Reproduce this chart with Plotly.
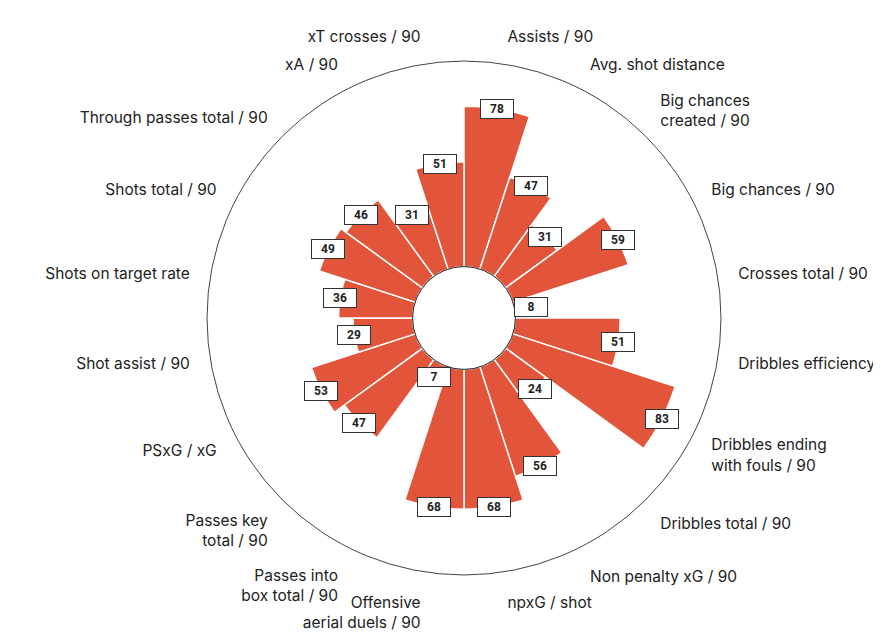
import numpy as np
import plotly.graph_objects as go

categories = [
    "Assists / 90", "Avg. shot distance", "Big chances<br>created / 90", "Big chances / 90",
    "Crosses total / 90", "Dribbles efficiency", "Dribbles ending<br>with fouls / 90",
    "Dribbles total / 90", "Non penalty xG / 90", "npxG / shot", "Offensive<br>aerial duels / 90",
    "Passes into<br>box total / 90", "Passes key<br>total / 90", "PSxG / xG", "Shot assist / 90",
    "Shots on target rate", "Shots total / 90", "Through passes total / 90", "xA / 90",
    "xT crosses / 90",
]
values = [78, 47, 31, 59, 8, 51, 83, 24, 56, 68, 68, 7, 47, 53, 29, 36, 49, 46, 31, 51]

BAR_COLOR = "#E2553A"
HOLE = 0.2
RMAX = 100
n = len(categories)
step = 360 / n
angles = [step / 2 + step * i for i in range(n)]

W, H = 881, 636
# polar area in pixels (square)
px0, px1 = 199, 713
py0, py1 = 53, 567
xdom = [px0 / W, px1 / W]
ydom = [(H - py1) / H, (H - py0) / H]

fig = go.Figure()
fig.add_trace(go.Barpolar(
    r=values, theta=angles, width=[step] * n,
    marker=dict(color=BAR_COLOR, line=dict(color="white", width=1.5)),
    hoverinfo="skip", showlegend=False,
))

# invisible cartesian overlay matching the polar area, used for value boxes
fig.add_trace(go.Scatter(x=[0], y=[0], mode="markers", marker=dict(opacity=0),
                         showlegend=False, hoverinfo="skip", xaxis="x", yaxis="y"))

annotations = []
for v, a in zip(values, angles):
    rr = HOLE + (1 - HOLE) * v / RMAX
    t = np.deg2rad(a)
    annotations.append(dict(
        x=rr * np.sin(t), y=rr * np.cos(t), xref="x", yref="y",
        text=f"<b>{v}</b>", showarrow=False,
        font=dict(family="Roboto, sans-serif", size=12, color="#222"),
        bgcolor="white", bordercolor="#333", borderwidth=1, borderpad=1.5,
        width=29, height=15, align="center", valign="middle",
    ))

shapes = [dict(type="circle", xref="x", yref="y", x0=-HOLE, x1=HOLE, y0=-HOLE, y1=HOLE,
               line=dict(color="#333", width=1), fillcolor="white", layer="above")]

fig.update_layout(
    width=W, height=H,
    margin=dict(l=0, r=0, t=0, b=0),
    paper_bgcolor="white", plot_bgcolor="white",
    showlegend=False,
    polar=dict(
        domain=dict(x=xdom, y=ydom),
        hole=HOLE,
        bgcolor="white",
        radialaxis=dict(range=[0, RMAX], visible=False),
        angularaxis=dict(
            rotation=90, direction="clockwise",
            tickmode="array", tickvals=angles, ticktext=categories,
            showgrid=False, showline=True, linecolor="#444", linewidth=1,
            ticks="outside", ticklen=17, tickcolor="rgba(0,0,0,0)",
            tickfont=dict(family="Inter, sans-serif", size=15.5, color="#222"),
        ),
    ),
    xaxis=dict(domain=xdom, range=[-1, 1], visible=False, fixedrange=True),
    yaxis=dict(domain=ydom, range=[-1, 1], visible=False, fixedrange=True),
    annotations=annotations,
    shapes=shapes,
)

fig.write_html("out.html")
